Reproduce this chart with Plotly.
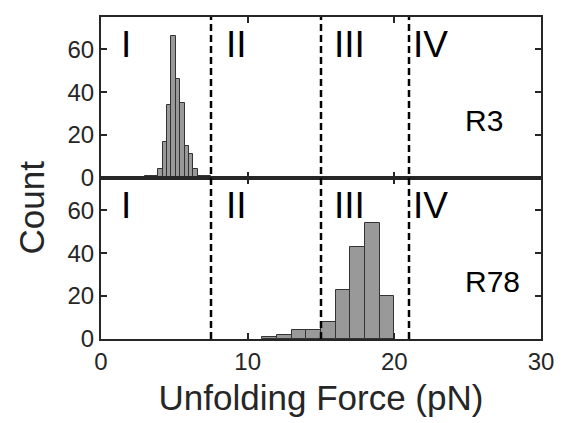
import plotly.graph_objects as go
from plotly.subplots import make_subplots

# R3 histogram (bin width 0.3 pN, from 3.0 to 7.5)
r3_bin_start = 3.0
r3_bin_width = 0.3
r3_counts = [1, 1, 1, 4, 17, 34, 66, 46, 35, 15, 11, 4, 1, 1, 1]

# R78 histogram (bin width 1 pN, from 11 to 20)
r78_bin_start = 11.0
r78_bin_width = 1.0
r78_counts = [1, 2, 4, 4, 8, 23, 43, 54, 20]

# region boundaries (pN)
boundaries = [7.5, 15, 21]
region_labels = ["I", "II", "III", "IV"]
region_label_x = [1.2, 8.4, 15.75, 21.15]
panel_names = ["R3", "R78"]

x_ticks = [0, 10, 20, 30]
y_ticks = [0, 20, 40, 60]

FONT = "Liberation Sans, Arial, Helvetica, sans-serif"
AXC = "#262626"
BARC = "#999999"

def centers(start, w, n):
    return [start + w * (i + 0.5) for i in range(n)]

fig = make_subplots(rows=2, cols=1, shared_xaxes=True, vertical_spacing=0)

fig.add_trace(go.Bar(x=centers(r3_bin_start, r3_bin_width, len(r3_counts)), y=r3_counts,
                     width=r3_bin_width, marker=dict(color=BARC, line=dict(color="#333333", width=1)),
                     showlegend=False), row=1, col=1)
fig.add_trace(go.Bar(x=centers(r78_bin_start, r78_bin_width, len(r78_counts)), y=r78_counts,
                     width=r78_bin_width, marker=dict(color=BARC, line=dict(color="#333333", width=1)),
                     showlegend=False), row=2, col=1)

axis_common = dict(showgrid=False, zeroline=False, showline=True, linecolor=AXC, linewidth=2,
                   mirror="ticks", ticks="inside", ticklen=6, tickwidth=1.5, tickcolor=AXC,
                   tickfont=dict(family=FONT, size=24, color=AXC))

for r in (1, 2):
    fig.update_xaxes(range=[0, 30], tickvals=x_ticks, **axis_common, row=r, col=1)
    fig.update_yaxes(range=[0, 75], tickvals=y_ticks, **axis_common, row=r, col=1)
fig.update_xaxes(showticklabels=False, row=1, col=1)
fig.update_xaxes(title=dict(text="Unfolding Force (pN)", font=dict(family=FONT, size=35, color=AXC), standoff=12),
                 row=2, col=1)

for b in boundaries:
    fig.add_shape(type="line", xref="x", yref="paper", x0=b, x1=b, y0=0, y1=1,
                  line=dict(color="black", width=2.5, dash="7px,4px"), layer="above")

for i, (yr, xr) in enumerate([("y", "x"), ("y2", "x2")]):
    for lab, lx in zip(region_labels, region_label_x):
        fig.add_annotation(x=lx, y=62, xref=xr, yref=yr, text=lab, showarrow=False,
                           xanchor="left", yanchor="middle",
                           font=dict(family=FONT, size=37, color="black"))
    fig.add_annotation(x=24.7, y=27, xref=xr, yref=yr, text=panel_names[i], showarrow=False,
                       xanchor="left", yanchor="middle",
                       font=dict(family=FONT, size=30, color="black"))

fig.add_annotation(x=-0.158, y=0.41, xref="paper", yref="paper", text="Count", showarrow=False,
                   textangle=-90, xanchor="center", yanchor="middle",
                   font=dict(family=FONT, size=35, color=AXC))

fig.update_layout(width=566, height=423, margin=dict(l=101, r=17, t=17, b=82),
                  paper_bgcolor="white", plot_bgcolor="white", barmode="overlay", bargap=0)

fig.write_html("out.html")
